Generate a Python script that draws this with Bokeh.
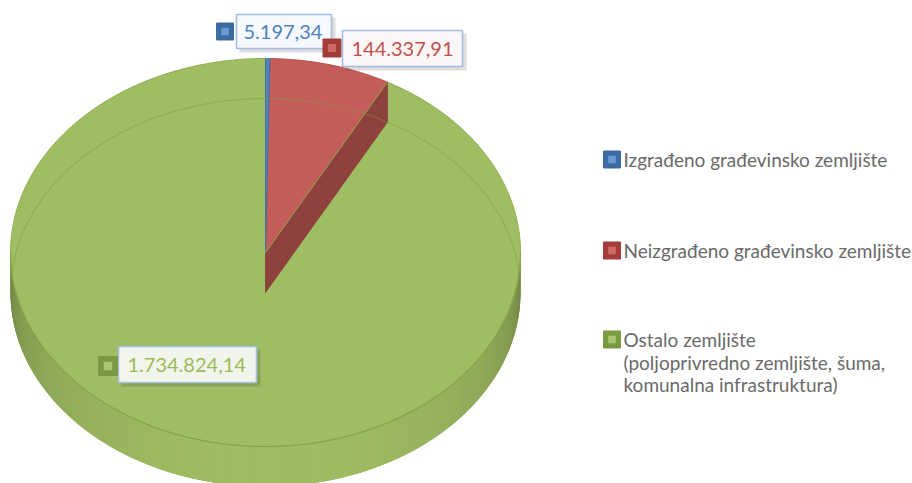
import numpy as np
from bokeh.plotting import figure
from bokeh.models import Range1d
from bokeh.embed import file_html
from bokeh.resources import INLINE
from bokeh.core.properties import value

# ---------------- data ----------------
categories = ["Izgrađeno građevinsko zemljište",
              "Neizgrađeno građevinsko zemljište",
              "Ostalo zemljište"]
legend_lines = [["Izgrađeno građevinsko zemljište"],
                ["Neizgrađeno građevinsko zemljište"],
                ["Ostalo zemljište", "(poljoprivredno zemljište, šuma,", "komunalna infrastruktura)"]]
values = [5197.34, 144337.91, 1734824.14]

# ---------------- styles ----------------
top_colors = ["#4f81bd", "#c45d5a", "#9fbd62"]
dark_colors = ["#3c659a", "#8f413e", "#6f8a3c"]
label_text_colors = ["#4f81bd", "#c0504d", "#9bbb59"]
key_outer = ["#3d6aa3", "#a33d3a", "#7a9a42"]
key_inner = ["#6d98cf", "#cf6966", "#a8c870"]
FONT = "Lato"

W, H = 912, 483
p = figure(width=W, height=H, output_backend="svg", toolbar_location=None,
           x_range=Range1d(0, W), y_range=Range1d(H, 0),
           min_border=0, outline_line_color=None)
p.axis.visible = False
p.grid.visible = False
p.background_fill_color = "white"
p.border_fill_color = "white"

# pie geometry (screen-like coordinates, y downwards)
CX, CY, RX, RY, TH = 265.0, 252.0, 255.0, 194.0, 40.0


def pt(a, dy=0.0):
    return CX + RX * np.sin(a), CY - RY * np.cos(a) + dy


def shade(hexcol, f):
    h = hexcol.lstrip("#")
    r, g, b = (int(h[i:i + 2], 16) for i in (0, 2, 4))
    return "#%02x%02x%02x" % (int(r * f), int(g * f), int(b * f))


total = float(sum(values))
fr = [v / total for v in values]
bounds = np.concatenate([[0.0], np.cumsum(fr)]) * 2 * np.pi

# side wall of the front (lower half) -- belongs to the big slice
n = 160
aa = np.linspace(np.pi / 2, 3 * np.pi / 2, n + 1)
# base wall
wa = np.linspace(np.pi / 2, 3 * np.pi / 2, 300)
wx, wy = pt(wa)
p.patch(list(wx) + list(wx[::-1]), list(wy) + list((wy + TH)[::-1]),
        fill_color=shade(top_colors[2], 0.9), line_color=None)
xs_w, ys_w, cols_w = [], [], []
for i in range(n):
    a0, a1 = aa[i], aa[min(i + 2, n)]
    x0, y0 = pt(a0)
    x1, y1 = pt(a1)
    xs_w.append([x0, x1, x1, x0])
    ys_w.append([y0, y1, y1 + TH, y0 + TH])
    u = (0.5 * (aa[i] + aa[i + 1]) - np.pi / 2) / np.pi
    facing = np.sin(np.pi * u)
    cols_w.append(shade(top_colors[2], 0.58 + 0.42 * facing ** 0.45))
p.patches(xs_w, ys_w, fill_color=cols_w, line_color=None)

# top face of big slice
def wedge(a_start, a_end, m=200):
    a = np.linspace(a_start, a_end, m)
    x, y = pt(a)
    return [CX] + list(x), [CY] + list(y)

gx, gy = wedge(bounds[2], bounds[3], 400)
p.patch(gx, gy, fill_color=top_colors[2], line_color="#8eae50", line_width=1)

# front edge of top face
af = np.linspace(np.pi / 2, 3 * np.pi / 2, 200)
fx, fy = pt(af)
p.line(fx, fy, line_color="#87a64b", line_width=1.2)

# radial side face of the second slice (visible cut face)
ex, ey = pt(bounds[2])
p.patch([CX, ex, ex, CX], [CY, ey, ey + TH, CY + TH],
        fill_color=dark_colors[1], line_color="#8a3f3c", line_width=0.8)

# top faces of small slices
rx_, ry_ = wedge(bounds[1], bounds[2], 120)
p.patch(rx_, ry_, fill_color=top_colors[1], line_color="#b54d4a", line_width=1)
bx_, by_ = wedge(bounds[0], bounds[1], 20)
p.patch(bx_, by_, fill_color=top_colors[0], line_color="#44709f", line_width=1)
p.line([CX, ex], [CY, ey], line_color="#8fa84e", line_width=1)

# faint back edge of the bottom face, seen through
ab = np.linspace(-np.pi / 2, np.pi / 2, 200)
bbx, bby = pt(ab, TH)
p.line(bbx, bby, line_color="#7e9c46", line_width=1.3, line_alpha=0.4)

# ---------------- data labels ----------------
def fmt(v):
    s = f"{v:,.2f}"
    return s.replace(",", "X").replace(".", ",").replace("X", ".")

label_texts = [fmt(v) for v in values]
# (key centre x, key centre y, key size, box left, box right, box top, box bottom, text x)
label_layout = [
    (224.5, 31.0, 17, 236, 331, 14, 48, 243),
    (331.5, 47.5, 18, 342, 462, 30, 66, 351),
    (107.5, 365.5, 19, 118, 256, 346, 382, 127),
]
label_bg = ["#f5f8fc", "#fbf5f5", "#f2f5ec"]
for i, (kx, ky, ks, bl, br, bt, bb, tx) in enumerate(label_layout):
    # shadow
    p.quad(left=bl + 3, right=br + 4, top=bt + 3, bottom=bb + 4,
           fill_color="#000000", fill_alpha=0.13, line_color=None)
    p.quad(left=bl, right=br, top=bt, bottom=bb, fill_color=label_bg[i],
           line_color="#a3bedf", line_width=1.6)
    # legend key
    p.quad(left=kx - ks / 2, right=kx + ks / 2, top=ky - ks / 2, bottom=ky + ks / 2,
           fill_color=key_outer[i], line_color=key_outer[i], line_width=1)
    s2 = ks * 0.45
    p.quad(left=kx - s2 / 2, right=kx + s2 / 2, top=ky - s2 / 2, bottom=ky + s2 / 2,
           fill_color=key_inner[i], line_color=None)
    p.text(x=[tx], y=[(bt + bb) / 2 + 0.5], text=[label_texts[i]],
           text_font=value(FONT), text_font_size="20px",
           text_color=label_text_colors[i], text_baseline="middle", text_align="left")

# ---------------- legend ----------------
leg_x = 603
leg_y = [159, 250, 339]
line_h = 22.5
for i, lines in enumerate(legend_lines):
    ks = 17
    kx = leg_x + ks / 2
    ky = leg_y[i]
    p.quad(left=kx - ks / 2, right=kx + ks / 2, top=ky - ks / 2, bottom=ky + ks / 2,
           fill_color=key_outer[i], line_color=key_outer[i], line_width=1)
    s2 = ks * 0.45
    p.quad(left=kx - s2 / 2, right=kx + s2 / 2, top=ky - s2 / 2, bottom=ky + s2 / 2,
           fill_color=key_inner[i], line_color=None)
    for j, t in enumerate(lines):
        p.text(x=[leg_x + ks + 3], y=[ky + j * line_h], text=[t],
               text_font=value(FONT), text_font_size="19px",
               text_color="#6a6a6a", text_baseline="middle", text_align="left")

open("out.html", "w").write(file_html(p, INLINE))
